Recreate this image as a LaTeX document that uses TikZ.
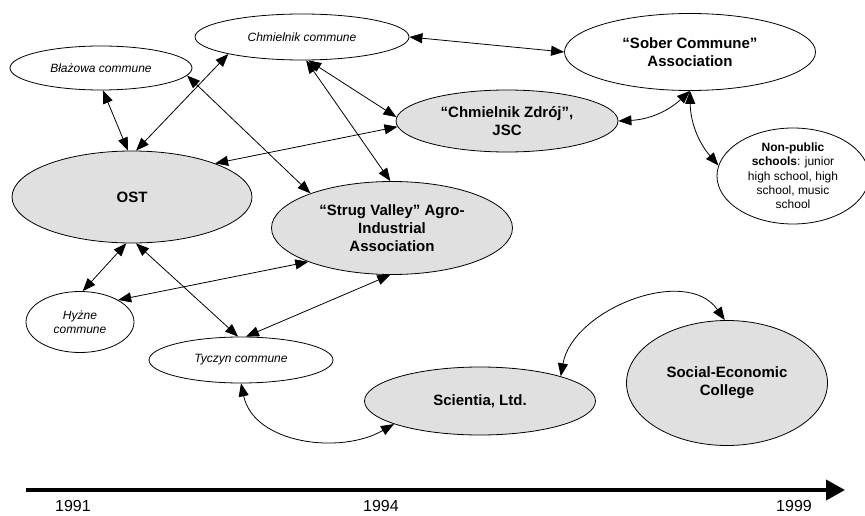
\documentclass[tikz,border=0pt]{standalone}
\usepackage{fontspec}
\setmainfont{Liberation Sans}
\usetikzlibrary{shapes.geometric,arrows.meta}
\definecolor{orgfill}{RGB}{224,224,224}

\begin{document}
\begin{tikzpicture}[x=1pt,y=1pt,
    >={Triangle[length=13pt,width=10pt]},
    unit/.style={ellipse, draw, line width=0.8pt, inner sep=0pt, align=center},
    commune/.style={unit, fill=white, font=\fontsize{12}{14}\selectfont\itshape},
    org/.style={unit, fill=orgfill, font=\fontsize{15}{18}\selectfont\bfseries},
    link/.style={<->, line width=0.8pt},
    year/.style={inner sep=0pt, font=\fontsize{16}{19}\selectfont}]
    \useasboundingbox (0,0) rectangle (865,515);

    % Communes
    \node[commune, minimum width=214pt, minimum height=46pt] (chm) at (302,478) {Chmielnik commune};
    \node[commune, minimum width=182pt, minimum height=44pt] (blaz) at (101,447) {Błażowa commune};
    \node[commune, minimum width=108pt, minimum height=61pt] (hyz) at (80,193) {Hyżne\\commune};
    \node[commune, minimum width=184pt, minimum height=46pt] (tyc) at (241,155) {Tyczyn commune};

    % Organisations
    \node[org, minimum width=240pt, minimum height=92pt] (ost) at (132,318) {OST};
    \node[org, minimum width=241pt, minimum height=93pt] (strug) at (392,287) {“Strug Valley” Agro-\\Industrial\\Association};
    \node[org, minimum width=222pt, minimum height=62pt] (zdroj) at (507,394) {“Chmielnik Zdrój”,\\JSC};
    \node[org, fill=white, minimum width=251pt, minimum height=77pt] (sober) at (690,463) {“Sober Commune”\\Association};
    \node[unit, fill=white, font=\fontsize{12}{14.3}\selectfont, minimum width=152pt, minimum height=96pt] (npub) at (793,339)
        {\textbf{Non-public}\\\textbf{schools}: junior\\high school, high\\school, music\\school};
    \node[org, minimum width=231pt, minimum height=68pt] (sci) at (480,114) {Scientia, Ltd.};
    \node[org, minimum width=201pt, minimum height=125pt] (sec) at (727,132) {Social-Economic\\College};

    % Links
    \draw[link] (blaz.-85) -- (ost.95);
    \draw[link] (chm.193) -- (ost.85);
    \draw[link] (blaz.-5) -- (strug.157);
    \draw[link] (chm.-75) -- (zdroj.178);
    \draw[link] (chm.-80) -- (strug.92);
    \draw[link] (zdroj.183) -- (ost.22);
    \draw[link] (chm.east) -- (sober.west);
    \draw[link] (sober.south) to[bend left=20] (zdroj.east);
    \draw[link] (sober.south) to[bend right=20] (npub.172);
    \draw[link] (ost.-97) -- (hyz.85);
    \draw[link] (ost.-85) -- (tyc.97);
    \draw[link] (hyz.30) -- (strug.202);
    \draw[link] (tyc.78) -- (strug.268);
    \draw[link] (tyc.south) to[out=-78,in=210] (sci.195);
    \draw[link] (sci.17) to[out=80,in=125] (sec.92);

    % Time axis
    \coordinate (tstart) at (26,25);
    \coordinate (tend) at (845,25);
    \draw[line width=4pt, -{Triangle[length=19pt,width=20pt]}] (tstart) -- (tend);
    \node[year] (y91) at (73,9) {1991};
    \node[year] (y94) at (381,9) {1994};
    \node[year] (y99) at (794,9) {1999};
\end{tikzpicture}
\end{document}
